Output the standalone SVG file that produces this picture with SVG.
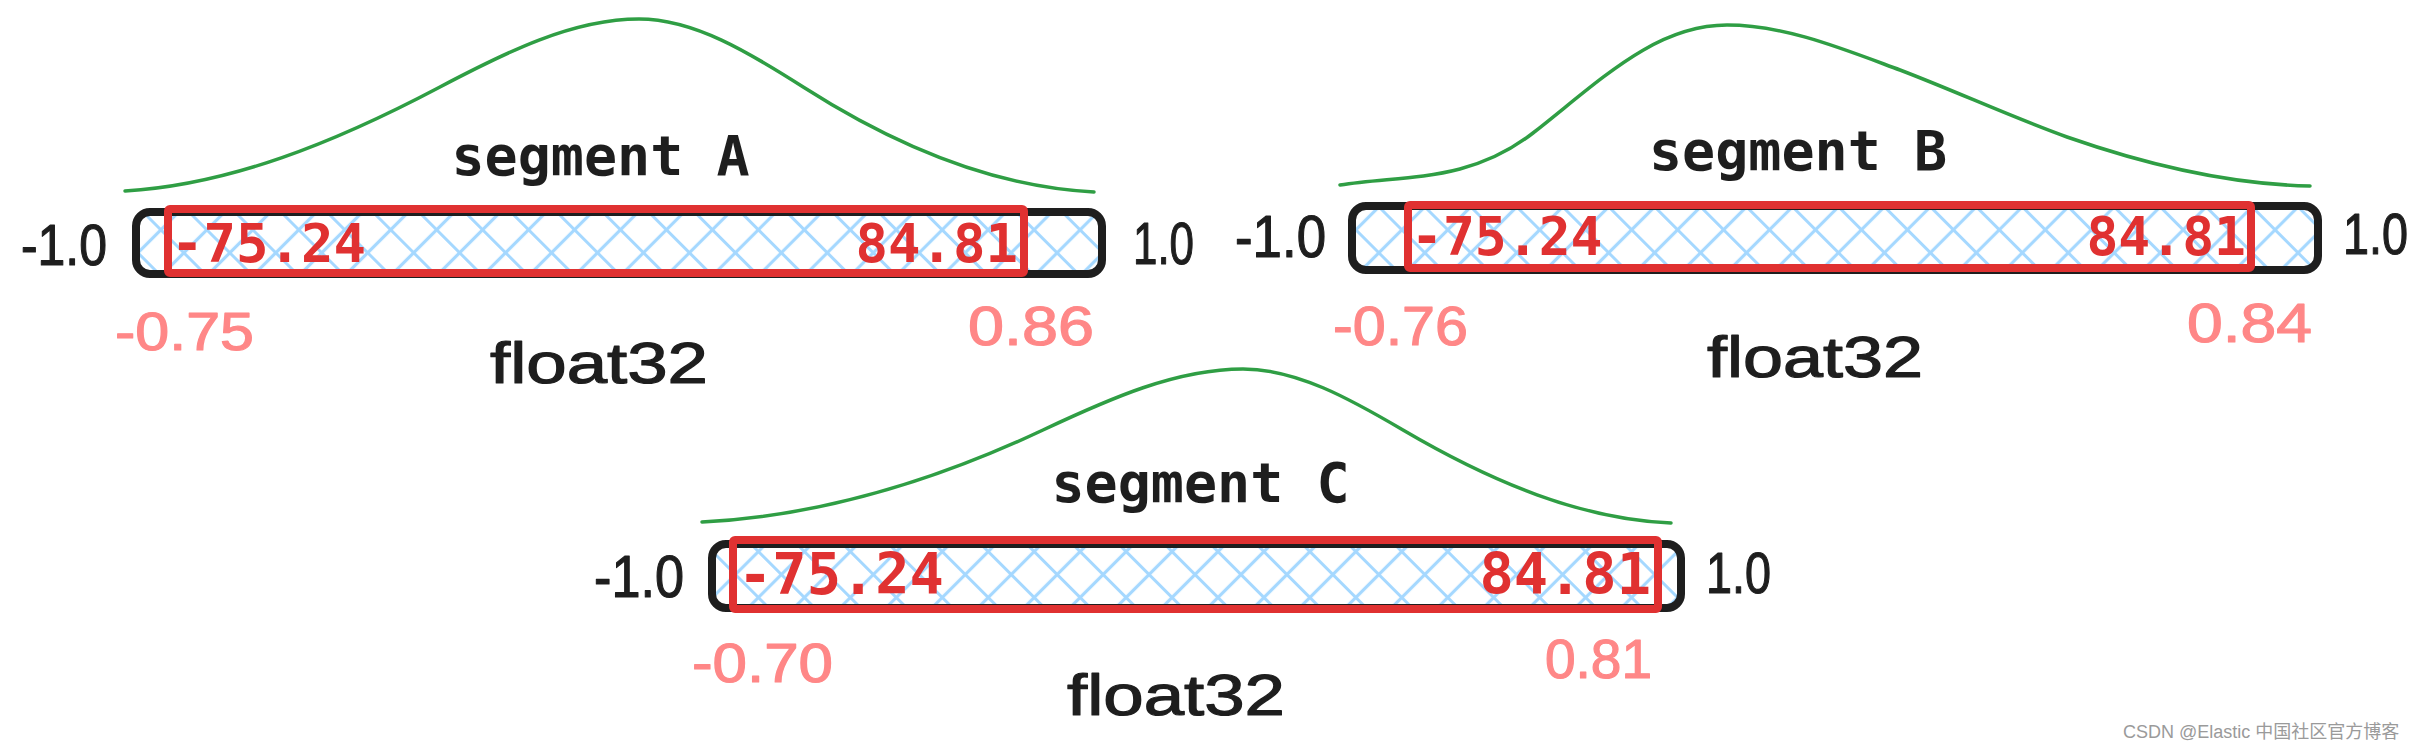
<svg xmlns="http://www.w3.org/2000/svg" width="2433" height="755" viewBox="0 0 2433 755">
<defs>
<pattern id="hatch" patternUnits="userSpaceOnUse" width="32.5" height="32.5" patternTransform="rotate(45)">
<path d="M0 16.25H32.5M16.25 0V32.5" stroke="#a5d8ff" stroke-width="3.2" fill="none"/>
</pattern>
<style>
.curve{fill:none;stroke:#2f9e44;stroke-width:3.5;stroke-linecap:round}
.box{fill:url(#hatch);stroke:#1e1e1e;stroke-width:8}
.range{fill:none;stroke:#e03131;stroke-width:8}
.mono{font-family:"DejaVu Sans Mono",monospace;font-weight:bold}
.hand{font-family:"Liberation Sans",sans-serif;stroke-width:1.2;stroke-linejoin:round}
.lbl{fill:#1e1e1e}
.hand.lbl{stroke:#1e1e1e}
.val{fill:#e03131}
.bound{fill:#ff8787;stroke:#ff8787}
.wm{font-family:"Liberation Sans","Noto Sans CJK SC",sans-serif;font-size:18px;fill:#9a9a9a}
</style>
</defs>
<rect width="2433" height="755" fill="#ffffff"/>

<g id="segment-a">
<path class="curve" d="M125,191 C229.7,184.7 334.3,142.8 439,87.5 C505.7,52.3 572.3,19 639,19 C694,19 749,52.4 804,87.5 C900.7,149.3 997.3,187.2 1094,192"/>
<text class="mono lbl" x="600.5" y="175" font-size="55" text-anchor="middle">segment A</text>
<rect class="box" x="136" y="212" width="966" height="62" rx="14"/>
<rect class="range" x="168" y="209" width="856" height="64" rx="2"/>
<text class="mono val" x="171" y="262" font-size="54">-75.24</text>
<text class="mono val" x="1018" y="262" font-size="54" text-anchor="end">84.81</text>
<text class="hand lbl" x="21" y="265" font-size="58" textLength="86" lengthAdjust="spacingAndGlyphs">-1.0</text>
<text class="hand lbl" x="1133" y="264" font-size="60" textLength="61" lengthAdjust="spacingAndGlyphs">1.0</text>
<text class="hand bound" x="115" y="350" font-size="54" textLength="139" lengthAdjust="spacingAndGlyphs">-0.75</text>
<text class="hand bound" x="968" y="345" font-size="55" textLength="126" lengthAdjust="spacingAndGlyphs">0.86</text>
<text class="hand lbl" x="490" y="383" font-size="58" textLength="218" lengthAdjust="spacingAndGlyphs">float32</text>
</g>

<g id="segment-b">
<path class="curve" d="M1340,185 C1404.3,174.7 1468.7,183.2 1533,133 C1600,80.7 1655,25 1727,25 C1784.7,25 1842.3,48.7 1900,70 C1955.7,91.2 2011.3,117 2067,137 C2148,165.3 2229,184.4 2310,186"/>
<text class="mono lbl" x="1798" y="170" font-size="55" text-anchor="middle">segment B</text>
<rect class="box" x="1352" y="206" width="966" height="64" rx="14"/>
<rect class="range" x="1408" y="205" width="843" height="63" rx="2"/>
<text class="mono val" x="1411" y="255" font-size="53">-75.24</text>
<text class="mono val" x="2246" y="255" font-size="53" text-anchor="end">84.81</text>
<text class="hand lbl" x="1235" y="257" font-size="60" textLength="91" lengthAdjust="spacingAndGlyphs">-1.0</text>
<text class="hand lbl" x="2343" y="254" font-size="58" textLength="65" lengthAdjust="spacingAndGlyphs">1.0</text>
<text class="hand bound" x="1333" y="345" font-size="55" textLength="135" lengthAdjust="spacingAndGlyphs">-0.76</text>
<text class="hand bound" x="2187" y="342" font-size="55" textLength="125" lengthAdjust="spacingAndGlyphs">0.84</text>
<text class="hand lbl" x="1707" y="377" font-size="58" textLength="216" lengthAdjust="spacingAndGlyphs">float32</text>
</g>

<g id="segment-c">
<path class="curve" d="M702,522 C815.7,516.3 929.3,483.4 1043,430 C1109.7,398.7 1176.3,369 1243,369 C1296.3,369 1349.7,398.7 1403,430 C1492.3,482.4 1581.7,519.4 1671,523"/>
<text class="mono lbl" x="1200.5" y="502" font-size="55" text-anchor="middle">segment C</text>
<rect class="box" x="712" y="544" width="969" height="64" rx="14"/>
<rect class="range" x="733" y="540" width="925" height="69" rx="2"/>
<text class="mono val" x="738" y="594" font-size="57">-75.24</text>
<text class="mono val" x="1651" y="594" font-size="57" text-anchor="end">84.81</text>
<text class="hand lbl" x="594" y="597" font-size="60" textLength="90" lengthAdjust="spacingAndGlyphs">-1.0</text>
<text class="hand lbl" x="1706" y="593" font-size="58" textLength="65" lengthAdjust="spacingAndGlyphs">1.0</text>
<text class="hand bound" x="692" y="682" font-size="55" textLength="141" lengthAdjust="spacingAndGlyphs">-0.70</text>
<text class="hand bound" x="1545" y="678" font-size="55" textLength="107" lengthAdjust="spacingAndGlyphs">0.81</text>
<text class="hand lbl" x="1067" y="715" font-size="58" textLength="218" lengthAdjust="spacingAndGlyphs">float32</text>
</g>

<g id="watermark">
<text class="wm" x="2123" y="738">CSDN @Elastic 中国社区官方博客</text>
</g>
</svg>
